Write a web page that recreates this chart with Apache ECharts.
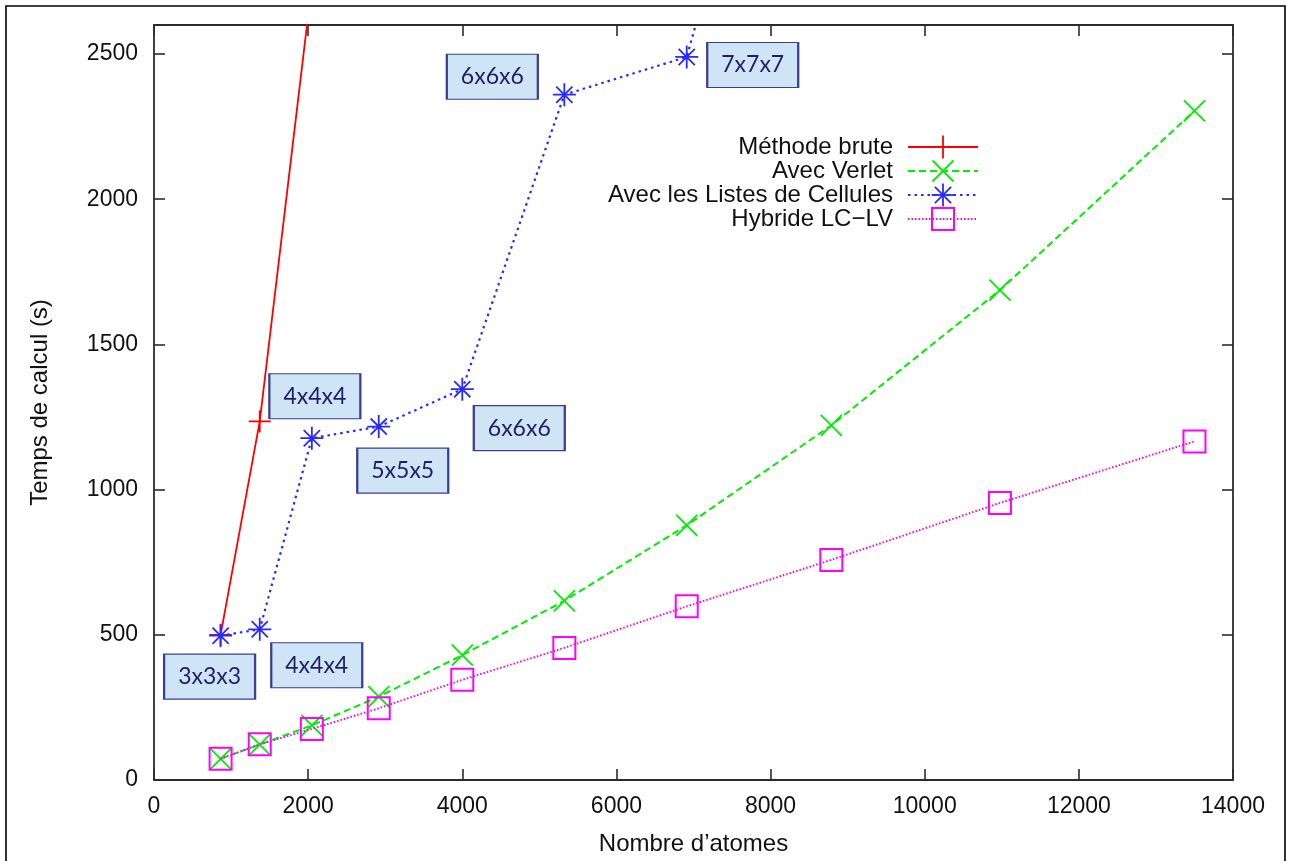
<!DOCTYPE html>
<html>
<head>
<meta charset="utf-8">
<title>Temps de calcul</title>
<script src="https://cdn.jsdelivr.net/npm/echarts@6/dist/echarts.min.js"></script>
<style>
  html, body { margin: 0; padding: 0; background: #ffffff; overflow: hidden; }
  #chart { width: 1291px; height: 861px; }
</style>
</head>
<body>
<div id="chart"></div>
<script>
// Nombre d'atomes (réseau cfc : 4 n^3)
const atoms = [864, 1372, 2048, 2916, 4000, 5324, 6912, 8788, 10976, 13500];

// Temps de calcul (s) pour chaque méthode
const bruteTimes  = [500, 1235, 2740];
const verletTimes = [73, 122, 188, 287, 430, 617, 877, 1221, 1687, 2304];
const cellTimes   = [497, 519, 1177, 1217, 1346, 2360, 2490, 4270];
const hybridTimes = [73, 123, 176, 247, 345, 455, 598, 758, 954, 1166];

// Découpage en cellules associé aux points de la méthode des listes de cellules
const cellGridLabels = ['3x3x3', '4x4x4', '4x4x4', '5x5x5', '6x6x6', '6x6x6', '7x7x7'];

const seriesNames = ['Méthode brute', 'Avec Verlet', 'Avec les Listes de Cellules', 'Hybride LC\u2212LV'];

const xTicks = { min: 0, max: 14000, interval: 2000 };
const yTicks = { min: 0, max: 2600, interval: 500 };

const FONT = 'Liberation Sans';
const AXIS_COLOR = '#2b2b2b';
const COLORS = ['#ff0000', '#00ee00', '#2a2aff', '#ff00ff'];

// placement (px) of each grid annotation relative to the point it labels
const annotationOffsets = [[-11, 41], [57, 36], [3, -42], [24, 44], [57, 39], [-72, -18], [66, 8]];

const pairs = (ys) => ys.map((y, i) => [atoms[i], y]);

const symbols = {
  plus: 'path://M0,11L22,11M11,0L11,22',
  cross: 'path://M0,0L21,21M0,21L21,0',
  star: 'path://M0,11.5L23,11.5M11.5,0L11.5,23M3.4,3.4L19.6,19.6M3.4,19.6L19.6,3.4',
  square: 'path://M0,0L22,0L22,22L0,22Z'
};

function markerStyle(color, w) {
  return { color: 'rgba(0,0,0,0)', borderColor: color, borderWidth: w };
}

const annotationData = cellGridLabels.map((txt, i) => ({
  coord: [atoms[i], cellTimes[i]],
  value: txt,
  symbol: 'rect',
  symbolSize: [91, 45],
  symbolOffset: annotationOffsets[i],
  itemStyle: { color: '#cfe4f5', borderColor: '#3a3f95', borderWidth: 1.6 },
  label: {
    show: true, position: 'inside', formatter: txt,
    fontFamily: 'Lato', fontSize: 23, color: '#1e1e6a'
  }
}));

function axisBase(pos, t, showLabels) {
  return {
    type: 'value', position: pos, min: t.min, max: t.max, interval: t.interval,
    splitLine: { show: false },
    axisLine: { show: true, onZero: false, lineStyle: { color: AXIS_COLOR, width: 1.8 } },
    axisTick: { show: true, inside: true, length: 11, lineStyle: { color: AXIS_COLOR, width: 1.6 } },
    axisLabel: {
      show: showLabels, fontFamily: FONT, fontSize: 23, color: '#111111',
      formatter: (v) => (v % t.interval === 0 ? String(v) : '')
    }
  };
}

const xBottom = Object.assign(axisBase('bottom', xTicks, true), {
  name: "Nombre d\u2019atomes", nameLocation: 'middle', nameGap: 52,
  nameTextStyle: { fontFamily: FONT, fontSize: 24, color: '#111111' }
});
xBottom.axisLabel.margin = 15;
const xTop = axisBase('top', xTicks, false);

const yLeft = Object.assign(axisBase('left', yTicks, true), {
  name: 'Temps de calcul (s)', nameLocation: 'middle', nameGap: 102, nameRotate: 90,
  nameTextStyle: { fontFamily: FONT, fontSize: 24, color: '#111111' }
});
yLeft.axisLabel.margin = 16;
const yRight = axisBase('right', yTicks, false);

// Legend drawn in the gnuplot style: text right-aligned, sample line on the right
const legendX = 893, legendLine = [908, 978], legendMark = 943;
const legendRows = [147, 171, 195, 219];
const legendDash = [null, [7, 4], [2.5, 4], [1.5, 2]];
const legendGraphics = [];
seriesNames.forEach((name, i) => {
  const y = legendRows[i];
  legendGraphics.push({
    type: 'text', x: legendX, y: y,
    style: { text: name, font: '24px "' + FONT + '"', fill: '#111111', textAlign: 'right', textVerticalAlign: 'middle' }
  });
  legendGraphics.push({
    type: 'line', shape: { x1: legendLine[0], y1: y, x2: legendLine[1], y2: y },
    style: { stroke: COLORS[i], lineWidth: 1.8, lineDash: legendDash[i] }
  });
});
const mk = (pts, i, w) => ({ type: 'polyline', shape: { points: pts }, style: { stroke: COLORS[i], lineWidth: w, fill: null } });
const cx = legendMark;
legendGraphics.push(mk([[cx, legendRows[0] - 11.5], [cx, legendRows[0] + 11.5]], 0, 1.8));
legendGraphics.push(mk([[cx - 10.5, legendRows[1] - 10.5], [cx + 10.5, legendRows[1] + 10.5]], 1, 1.8));
legendGraphics.push(mk([[cx - 10.5, legendRows[1] + 10.5], [cx + 10.5, legendRows[1] - 10.5]], 1, 1.8));
[[0, 11.5], [11.5, 0], [8.1, 8.1], [8.1, -8.1]].forEach(([dx, dy]) => {
  legendGraphics.push(mk([[cx - dx, legendRows[2] - dy], [cx + dx, legendRows[2] + dy]], 2, 1.8));
});
legendGraphics.push({
  type: 'rect', shape: { x: cx - 11, y: legendRows[3] - 11, width: 22, height: 22 },
  style: { stroke: COLORS[3], lineWidth: 2, fill: null }
});

const chart = echarts.init(document.getElementById('chart'), null, { renderer: 'canvas', width: 1291, height: 861 });
chart.setOption({
  backgroundColor: '#ffffff',
  animation: false,
  textStyle: { fontFamily: FONT },
  grid: { left: 154, top: 25, width: 1079, height: 758, containLabel: false },
  xAxis: [xBottom, xTop],
  yAxis: [yLeft, yRight],
  series: [
    {
      name: seriesNames[0], type: 'line', data: pairs(bruteTimes), clip: true,
      symbol: symbols.plus, symbolSize: 22, z: 2,
      lineStyle: { color: COLORS[0], width: 1.8, type: 'solid' },
      itemStyle: markerStyle(COLORS[0], 1.8)
    },
    {
      name: seriesNames[1], type: 'line', data: pairs(verletTimes), clip: true,
      symbol: symbols.cross, symbolSize: 21, z: 3,
      lineStyle: { color: COLORS[1], width: 2, type: [7, 4] },
      itemStyle: markerStyle(COLORS[1], 1.8)
    },
    {
      name: seriesNames[2], type: 'line', data: pairs(cellTimes), clip: true,
      symbol: symbols.star, symbolSize: 23, z: 4,
      lineStyle: { color: COLORS[2], width: 2.2, type: [2.5, 4] },
      itemStyle: markerStyle(COLORS[2], 1.8),
      markPoint: { silent: true, z: 10, data: annotationData }
    },
    {
      name: seriesNames[3], type: 'line', data: pairs(hybridTimes), clip: true,
      symbol: symbols.square, symbolSize: 22, z: 5,
      lineStyle: { color: COLORS[3], width: 2, type: [1.5, 2] },
      itemStyle: markerStyle(COLORS[3], 2)
    }
  ],
  graphic: [
    {
      type: 'rect', shape: { x: 6, y: 6, width: 1279, height: 1000 },
      style: { stroke: '#000000', lineWidth: 1.6, fill: null }, silent: true
    }
  ].concat(legendGraphics)
});
</script>
</body>
</html>
